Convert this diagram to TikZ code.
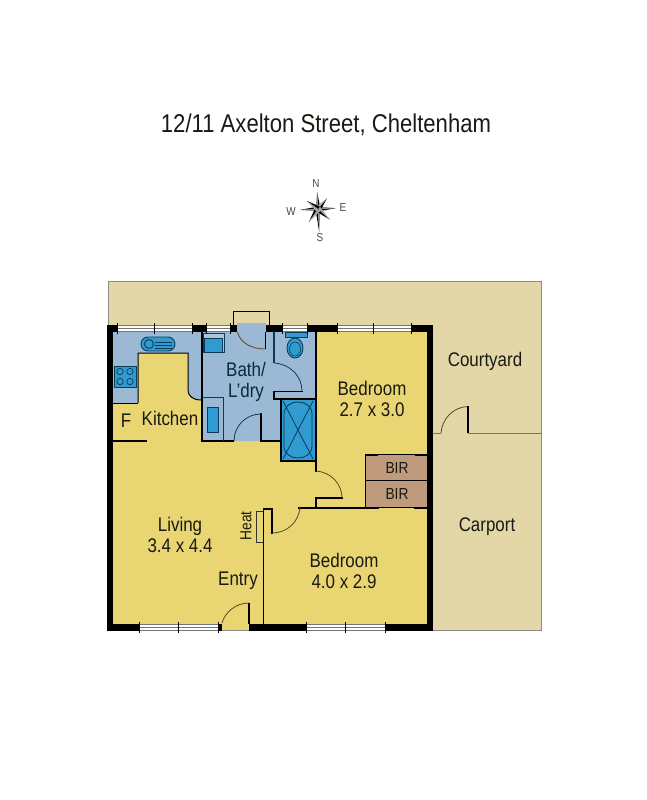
\documentclass[tikz,border=0pt]{standalone}
\usepackage{fontspec}
\usetikzlibrary{calc}
\setmainfont[FakeStretch=0.86]{Liberation Sans}
\definecolor{tan}{HTML}{E3D7A8}
\definecolor{yel}{HTML}{E9D673}
\definecolor{blu}{HTML}{9BB9D5}
\definecolor{fix}{HTML}{2F9BD0}
\definecolor{brn}{HTML}{C09A7C}
\definecolor{navy}{HTML}{0E3A55}
\definecolor{ink}{HTML}{1A1A14}
\definecolor{arcc}{HTML}{5A4A20}
\tikzset{
 wall/.style={fill=black,draw=none},
 part/.style={draw=black,line width=2pt,line cap=rect},
 thin part/.style={draw=black,line width=1pt},
 swing/.style={draw=arcc,line width=0.8pt},
 glass/.style={draw=none,fill=white},
 pane/.style={draw=black!55,line width=0.8pt},
 fixture/.style={draw=navy,line width=0.9pt,fill=fix},
 room/.style={font=\fontsize{19.7}{21}\selectfont,text=ink,align=center,inner sep=0pt},
 small/.style={font=\fontsize{16}{18}\selectfont,text=ink,inner sep=0pt},
 compass/.style={font=\fontsize{11.5}{13}\selectfont,text=ink!80,inner sep=0pt}
}
\newcommand{\winband}[4]{% x1 x2 xm ytop
 \fill[glass] (#1,#4) rectangle (#2,#4+7);
 \draw[pane] (#1,#4+0.5) -- (#2,#4+0.5) (#1,#4+3.5) -- (#2,#4+3.5) (#1,#4+6.5) -- (#2,#4+6.5);
 \draw[black,line width=0.8pt] (#1,#4-2) -- (#1,#4+9) (#3,#4-2) -- (#3,#4+9) (#2,#4-2) -- (#2,#4+9);
}
\begin{document}
\begin{tikzpicture}[x=1pt,y=-1pt]
\useasboundingbox (0,0) rectangle (647,800);
\fill[white] (0,0) rectangle (647,800);
% title
\node[inner sep=0pt,font=\fontsize{25.7}{30}\selectfont,text=ink] (title) at (326,124.5) {12/11 Axelton Street, Cheltenham};
% compass
\coordinate (cc) at (318,209);
\foreach \a/\r in {-93/17,-3/18,87/23,177/18}{
  \fill[black] (cc) -- ($(cc)+(\a:\r)$) -- ($(cc)+(\a+90:2.5)$) -- cycle;
  \fill[black!45] (cc) -- ($(cc)+(\a:\r)$) -- ($(cc)+(\a-90:2.5)$) -- cycle;
}
\foreach \a/\r in {-50/14,42/16,125/16,216/14}{
  \fill[black] (cc) -- ($(cc)+(\a:\r)$) -- ($(cc)+(\a+90:3)$) -- cycle;
  \fill[black!35] (cc) -- ($(cc)+(\a:\r)$) -- ($(cc)+(\a-90:3)$) -- cycle;
}
\node[compass] (cn) at (316,184) {N};
\node[compass] (cw) at (291,212) {W};
\node[compass] (ce) at (343,208) {E};
\node[compass] (cs) at (320,238) {S};
% outside
\fill[tan,draw=black!45,line width=0.7pt] (108,281) rectangle (541,630);
\draw[black!55,line width=0.9pt] (433,433) -- (441,433) (468,433) -- (541,433);
% interior
\fill[yel] (110,328) rectangle (430,630);
% blue areas
\fill[blu] (113,328) -- (201,328) -- (201,400) .. controls (193,400) and (188,396) .. (188,390) -- (188,353) -- (138,353) -- (138,403) -- (113,403) -- cycle;
\fill[blu] (201,328) -- (237,328) -- (237,323) -- (266,323) -- (266,328) -- (315,328) -- (315,398) -- (281,398) -- (281,441) -- (201,441) -- cycle;
% bench outline
\draw[thin part] (138,403) -- (138,353) -- (188,353) -- (188,390) .. controls (188,396) and (193,400) .. (201,400);
\draw[thin part] (113,403) -- (138,403);
% BIR
\fill[brn] (365,455) rectangle (428,507);
\draw[thin part] (365,455) -- (365,507) (365,480.5) -- (428,480.5);
\draw[part,line cap=butt] (365,454.5) -- (378,454.5) (415,454.5) -- (428,454.5);
\draw[thin part] (378,454.5) -- (415,454.5);
% shower
\fill[fix] (281,399) rectangle (315,461);
\draw[navy,line width=0.8pt] (283,401) -- (313,459) (313,401) -- (283,459);
\draw[navy,line width=0.8pt] (284,414) .. controls (284,398) and (312,398) .. (312,414) -- (312,446) .. controls (312,462) and (284,462) .. (284,446) -- cycle;
% inner partitions
\draw[part] (202,332) -- (202,441) (202,441) -- (233,441) (261,441) -- (261,414);
\draw[part] (261,441) -- (281,441);
\draw[part] (281,399) -- (281,461) -- (315.5,461);
\draw[part] (274,398.5) -- (315,398.5);
\draw[part,line width=1.6pt] (274,398.5) -- (274,391.5) -- (302,391.5);
\draw[thin part,draw=navy,line width=1.2pt] (274,332) -- (274,363);
\draw[thin part,line width=1.5pt] (265.5,332) -- (265.5,349);
\draw[part,line width=1.3pt] (316,332) -- (316,471);
\draw[part,line width=1.8pt] (342,498) -- (316,498) -- (316,507);
\draw[part] (299,507.5) -- (378,507.5) (415,507.5) -- (428,507.5);
\draw[thin part] (378,507.5) -- (415,507.5);
\draw[part] (263.5,509) -- (272,509) -- (272,533);
\draw[part,line width=1.5pt] (263.5,509) -- (263.5,624);
\draw[thin part,draw=black!80] (263,511) -- (256,511) -- (256,542) -- (263,542);
\draw[part] (113,441) -- (146,441);
% swings
\draw[swing] (237.5,332) .. controls (240,343) and (252,349) .. (265,349);
\draw[swing,draw=navy] (274,363) .. controls (290,364) and (302,376) .. (302,391);
\draw[swing,draw=navy] (234,441) .. controls (234,426) and (246,414) .. (261,414);
\draw[swing] (316,471) .. controls (331,472) and (342,484) .. (342,498);
\draw[swing] (272,533) .. controls (287,533) and (299,522) .. (300,507);
\draw[swing] (222,623) .. controls (225,612) and (236,603) .. (249,603);
\draw[swing] (441,433) .. controls (442,419) and (453,407) .. (468,406.5);
% leaves
\draw[part,line cap=butt] (249,603) -- (249,624);
\draw[part,line cap=butt] (468,406) -- (468,433);
% door frame outside
\draw[black,line width=0.9pt] (233,325) -- (233,311) -- (269,311) -- (269,325);
% fixtures
\fill[blu!85!white,draw=navy,line width=0.8pt] (203,333) rectangle (224,352);
\draw[fixture] (204,338.5) rectangle (222,352);
\draw[fixture,rounded corners=7pt] (141,337) rectangle (175,351);
\draw[fixture,fill=fix] (149,344) circle (4.5);
\draw[navy,line width=0.6pt] (155,342) -- (172,342) (155,345) -- (172,345) (155,348) -- (172,348);
\draw[fixture] (114,366) rectangle (136,387);
\foreach \x in {120,130}\foreach \y in {371.5,381.5}{\draw[navy,line width=0.7pt] (\x,\y) circle (3.2);}
\draw[navy,line width=0.9pt] (203,397) -- (223,397) -- (223,441);
\draw[fixture] (207,407) rectangle (218,432);
\draw[fixture] (285,332) rectangle (307,337);
\draw[fixture] (295,348) ellipse (8 and 10);
\draw[navy,line width=0.6pt] (295,349) ellipse (5.5 and 7);
% walls
\path[wall] (107,325) rectangle (113,631);
\path[wall] (427,325) rectangle (433,631);
\path[wall] (107,623.5) rectangle (222,631);
\path[wall] (249,623.5) rectangle (433,631);
\path[wall] (107,325) rectangle (237,332);
\path[wall] (266,325) rectangle (433,332);
\winband{117}{192}{154}{325}
\winband{206}{230}{206}{325}
\winband{282}{307}{282}{325}
\winband{337}{411}{373}{325}
\winband{139}{218}{178}{624}
\winband{306}{385}{345}{624}
% labels
\node[room] (kit) at (170,418.5) {Kitchen};
\node[room] (f) at (126,421) {F};
\node[room,text=navy!70!black] (bath) at (246,382) {Bath/\\L'dry};
\node[room] (bed1) at (372,399) {Bedroom\\2.7 x 3.0};
\node[room] (court) at (485,361) {Courtyard};
\node[room] (carp) at (487,527) {Carport};
\node[room] (liv) at (180,534.5) {Living\\3.4 x 4.4};
\node[room] (ent) at (238,581) {Entry};
\node[room] (bed2) at (344,570.5) {Bedroom\\4.0 x 2.9};
\node[small] (b1) at (397,468) {BIR};
\node[small] (b2) at (397,493.5) {BIR};
\node[small,rotate=90] (heat) at (246,526) {Heat};
\end{tikzpicture}
\end{document}
